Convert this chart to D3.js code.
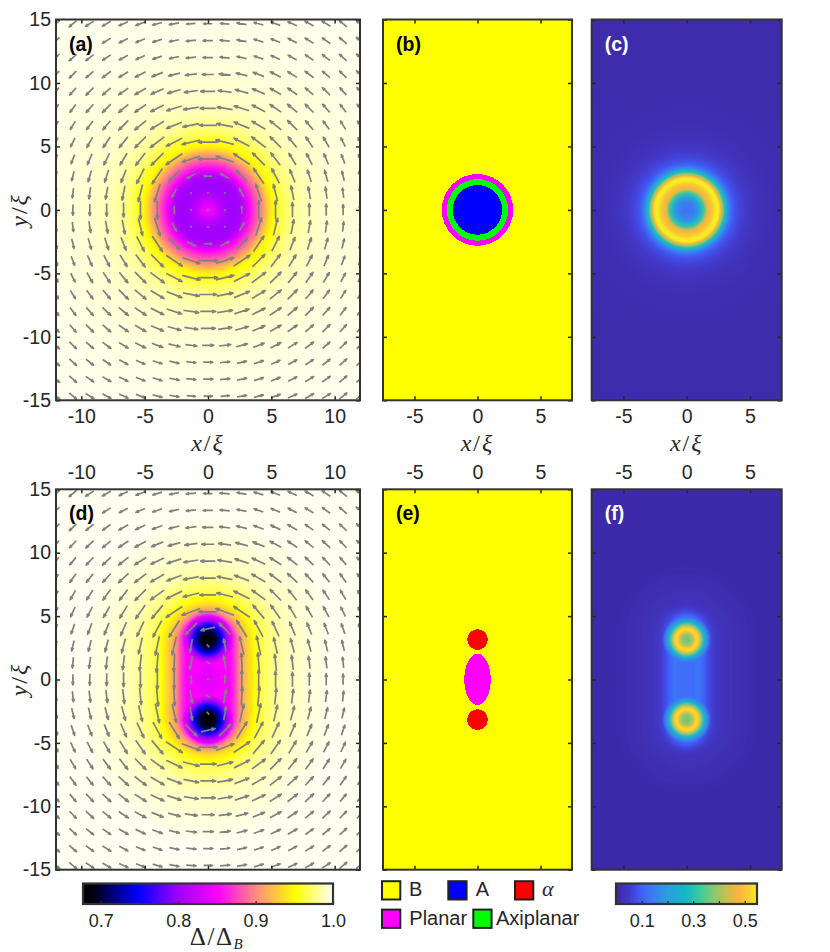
<!DOCTYPE html>
<html><head><meta charset="utf-8">
<script src="https://cdnjs.cloudflare.com/ajax/libs/d3/7.8.5/d3.min.js"></script>
<style>
html,body{margin:0;padding:0;background:#fff}
svg{display:block}
text{font-family:"Liberation Sans",Arial,sans-serif;fill:#262626}
.math{font-family:"Liberation Serif",serif}
</style></head><body><svg id="fig" width="830" height="952"></svg>
<script>
// ---------- axis data
const ticksWide=[-10,-5,0,5,10];
const ticksNarrow=[-5,0,5];
const ticksY=[-15,-10,-5,0,5,10,15];
const panelLabels=["(a)","(b)","(c)","(d)","(e)","(f)"];
// ---------- colour maps
const gapStops=[0.677,0.69,0.748,0.80,0.852,0.90,0.951,1.0];
const gapColors=["#000000","#00000f","#0000ff","#a000ff","#ff00ff","#ff8a80","#ffff00","#fffff6"];
const mixStops=[0,0.05,0.10,0.15,0.20,0.27,0.33,0.38,0.43,0.48,0.52,0.548];
const mixColors=["#3c28a4","#4338c8","#4060ff","#3a80f0","#2a9fdc","#10b8c8","#40cc98","#88c870","#c8c050","#ffb23c","#f8d030","#f5f020"];
// ---------- panel (a): radial profile of the gap
const ringRadiusA=[0,0.5,1,1.5,2,2.5,2.8,3.2,3.6,4,4.4,4.8,5.2,5.6,6.2,7,8,9,10,12,14,20];
const ringValueA=[0.85,0.835,0.815,0.803,0.80,0.803,0.815,0.845,0.87,0.89,0.91,0.935,0.95,0.96,0.972,0.982,0.988,0.991,0.993,0.995,0.997,0.999];
// ---------- panel (c): radial profile of the mixing
const ringRadiusC=[0,0.6,1,1.35,1.6,1.85,2.1,2.3,2.5,2.7,2.85,3.0,3.2,3.45,3.75,4.2,4.7,5.5,7,11];
const ringValueC=[0.12,0.15,0.21,0.32,0.45,0.49,0.52,0.545,0.545,0.47,0.38,0.29,0.20,0.13,0.085,0.065,0.05,0.03,0.02,0.012];
// ---------- panel (d): nested level shapes
const capsuleValueD=[0.997,0.995,0.992,0.988,0.982,0.975,0.965,0.95,0.935,0.92,0.90,0.875,0.855,0.85,0.84];
const capsuleHalfXD=[9.5,8.5,7.5,6.5,5.6,4.9,4.2,3.7,3.3,2.9,2.5,2.2,1.85,1.2,0.7];
const capsuleHalfYD=[12.5,11.2,10.2,9.0,8.2,7.6,6.9,6.4,6.0,5.7,5.4,5.15,4.7,1.5,0.9];
const coreRadiusD=[2.05,1.8,1.5,1.25,1.05,0.8,0.55,0];
const coreValueD=[0.855,0.83,0.80,0.76,0.74,0.71,0.69,0.677];
// ---------- panel (f): nested level shapes
const capsuleValueF=[0.012,0.02,0.03,0.05,0.08,0.11,0.14,0.125,0.12];
const capsuleHalfXF=[5.5,4,3,2.2,1.65,1.3,0.95,0.7,0.45];
const capsuleHalfYF=[9,7.5,6.3,5.7,5.3,5.0,4.5,4.0,3.0];
const coreRadiusF=[1.8,1.6,1.45,1.3,1.15,1.03,0.93,0.8,0.65,0.52,0.35,0];
const coreValueF=[0.13,0.18,0.24,0.30,0.38,0.46,0.53,0.54,0.49,0.42,0.37,0.35];
const vortexY=[3.15,-3.15];
// ---------- phase regions (b), (e): [semi-x, semi-y, centre y]
const phaseB=[["Planar",2.83,2.83,0],["Axiplanar",2.43,2.43,0],["A",1.96,1.96,0]];
const phaseE=[["Planar",1.05,2.03,0],["alpha",0.82,0.82,3.15],["alpha",0.82,0.82,-3.17]];
const phaseColors={B:"#ffff00",A:"#0000ff",alpha:"#ff0000",Planar:"#ff00ff",Axiplanar:"#00ff00"};
// ---------- order parameter arrows, first quadrant: rows y=j*step, columns x=k*step
const arrowStep=4/3;
const arrowAngleA=[
[90,90,90,90,90,90,90,90,90,90],
[180,135,117,108,104,101,100,98,97,96],
[180,153,135,124,117,112,108,106,104,103],
[180,162,146,135,127,121,117,113,111,108],
[180,166,153,143,135,129,124,120,117,114],
[180,169,158,149,141,135,130,126,122,119],
[180,171,162,153,146,140,135,131,127,124],
[180,172,164,157,150,145,139,135,131,128],
[180,173,166,159,153,148,143,139,135,132],
[180,174,167,162,156,151,146,142,138,134],
[180,174,169,163,158,153,149,145,139,137],
[180,175,170,165,160,156,151,148,140,139]];
const arrowSizeA=[
[2,2,8,19,19,15,13,12,11,10],
[2,2,10,19,18,15,13,12,10,10],
[8,10,16,19,17,14,13,12,10,10],
[20,19,20,18,16,14,13,12,10,10],
[20,19,18,18,16,14,13,12,10,10],
[18,17,17,16,15,14,12,11,10,10],
[16,16,16,15,14,13,12,11,10,10],
[15,14,14,14,13,12,11,11,10,10],
[12,12,12,12,12,11,11,10,10,10],
[10,10,10,10,10,10,10,10,10,10],
[10,10,10,10,10,10,10,10,10,10],
[9,9,10,10,10,10,10,10,10,10]];
const arrowAngleD=[
[90,90,90,90,90,90,90,90,90,90],
[160,100,93,95,96,97,97,97,96,96],
[130,100,103,102,103,105,105,104,103,102],
[193,135,122,118,115,113,112,111,109,107],
[180,160,146,130,125,121,120,118,115,113],
[180,166,154,144,135,128,126,123,120,118],
[180,169,159,150,143,137,133,129,125,122],
[180,171,162,155,148,142,137,133,130,127],
[180,172,165,158,152,146,141,137,134,130],
[180,173,166,160,155,150,145,141,137,134],
[180,174,168,162,157,152,148,144,139,137],
[180,175,169,164,159,155,150,147,140,139]];
const arrowSizeD=[
[2,8,19,20,17,15,13,12,11,10],
[5,14,19,20,17,15,13,12,11,10],
[4,14,19,20,17,15,13,12,11,10],
[15,17,20,19,17,15,13,12,11,10],
[19,20,20,18,17,15,13,12,11,10],
[17,17,18,17,16,14,13,12,11,10],
[16,16,16,16,15,14,12,11,11,10],
[15,15,15,15,14,13,12,11,10,10],
[13,13,13,13,13,12,11,11,10,10],
[11,11,11,11,11,11,10,10,10,10],
[10,10,10,10,10,10,10,10,10,10],
[9,10,10,10,10,10,10,10,10,10]];
const arrowsUnderLabel=["-8,10","-7,10"];
// ---------- legend
const legendRowOne=[["B","B",false],["A","A",false],["alpha","\u03b1",true]];
const legendRowTwo=[["Planar","Planar",false],["Axiplanar","Axiplanar",false]];
const gapBarTicks=[0.7,0.8,0.9,1.0];
const mixBarTicks=[0.1,0.2,0.3,0.4,0.5];
const mixBarLabels=[0.1,0.3,0.5];

// ---------- scales
const gapColor=d3.scaleLinear().domain(gapStops).range(gapColors).clamp(true);
const mixColor=d3.scaleLinear().domain(mixStops).range(mixColors).clamp(true);
const sizeScale=d3.scaleLinear().domain([0,20]).range([0,19.5]);
const INK="#262626",BOX="#333333",ARROW="#808080";
const svg=d3.select("#fig"),defs=svg.append("defs");
defs.append("filter").attr("id","soft").attr("x","-5%").attr("y","-5%").attr("width","110%").attr("height","110%")
  .append("feGaussianBlur").attr("stdDeviation",1.2);

function makePanel(id,x0,x1,y0,y1,limit){
  const x=d3.scaleLinear().domain([-limit,limit]).range([x0,x1]);
  const y=d3.scaleLinear().domain([-15,15]).range([y1,y0]);
  defs.append("clipPath").attr("id","clip"+id).append("rect")
    .attr("x",x0).attr("y",y0).attr("width",x1-x0).attr("height",y1-y0);
  const g=svg.append("g");
  const body=g.append("g").attr("clip-path",`url(#clip${id})`);
  return {id,x,y,x0,x1,y0,y1,g,body};
}
const top1=19.5,bot1=400.3,top2=489.3,bot2=869.7;
const P={
 a:makePanel("a",56,360,top1,bot1,12),
 b:makePanel("b",383,572,top1,bot1,7.5),
 c:makePanel("c",591.7,781.7,top1,bot1,7.5),
 d:makePanel("d",56,360,top2,bot2,12),
 e:makePanel("e",383,572,top2,bot2,7.5),
 f:makePanel("f",591.7,781.7,top2,bot2,7.5)};

function backdrop(p,fill){
  p.body.append("rect").attr("x",p.x0).attr("y",p.y0).attr("width",p.x1-p.x0).attr("height",p.y1-p.y0).attr("fill",fill);
}
function radialField(p,radii,values,color){
  const rMax=d3.max(radii);
  const gid="grad"+p.id;
  defs.append("radialGradient").attr("id",gid).selectAll("stop").data(radii).join("stop")
    .attr("offset",d=>d/rMax).attr("stop-color",(d,i)=>color(values[i]));
  backdrop(p,color(values[values.length-1]));
  p.body.append("circle").attr("cx",p.x(0)).attr("cy",p.y(0)).attr("r",p.x(rMax)-p.x(0)).attr("fill",`url(#${gid})`);
}
function nested(hx,hy,v,steps){
  const out=[];
  for(let i=0;i<v.length-1;i++){
    for(let s=0;s<steps;s++){
      const t=s/steps;
      out.push({hx:hx[i]+(hx[i+1]-hx[i])*t,hy:hy[i]+(hy[i+1]-hy[i])*t,v:v[i]+(v[i+1]-v[i])*t});
    }
  }
  out.push({hx:hx[hx.length-1],hy:hy[hy.length-1],v:v[v.length-1]});
  return out;
}
function levelField(p,hx,hy,v,rad,vr,color,baseValue){
  backdrop(p,color(baseValue));
  const gg=p.body.append("g").attr("filter","url(#soft)");
  gg.append("rect").attr("x",p.x0-10).attr("y",p.y0-10).attr("width",p.x1-p.x0+20).attr("height",p.y1-p.y0+20).attr("fill",color(baseValue));
  const k=p.x(1)-p.x(0);
  gg.selectAll("rect.lv").data(nested(hx,hy,v,5)).join("rect").attr("class","lv")
    .attr("x",d=>p.x(-d.hx)).attr("y",d=>p.y(d.hy))
    .attr("width",d=>p.x(d.hx)-p.x(-d.hx)).attr("height",d=>p.y(-d.hy)-p.y(d.hy))
    .attr("rx",d=>Math.min(d.hx,d.hy)*k).attr("ry",d=>Math.min(d.hx,d.hy)*k)
    .attr("fill",d=>color(d.v));
  vortexY.forEach(cy=>{
    gg.append("g").selectAll("circle").data(nested(rad,rad,vr,5)).join("circle")
      .attr("cx",p.x(0)).attr("cy",p.y(cy)).attr("r",d=>d.hx*k).attr("fill",d=>color(d.v));
  });
}
function phaseField(p,regions){
  backdrop(p,phaseColors.B);
  p.body.append("g").selectAll("ellipse").data(regions).join("ellipse")
    .attr("cx",p.x(0)).attr("cy",d=>p.y(d[3]))
    .attr("rx",d=>p.x(d[1])-p.x(0)).attr("ry",d=>p.y(0)-p.y(d[2]))
    .attr("fill",d=>phaseColors[d[0]]).attr("shape-rendering","crispEdges");
}
function arrows(p,angleTable,sizeTable){
  const items=[];
  d3.range(-9,10).forEach(k=>d3.range(-11,12).forEach(j=>{
    if(arrowsUnderLabel.includes(k+","+j))return;
    const a=angleTable[Math.abs(j)][Math.abs(k)]*Math.PI/180;
    const sy=j<0?-1:1, sx=(k<0||(k===0&&j<0))?-1:1;
    items.push({x:k*arrowStep,y:j*arrowStep,u:Math.cos(a)*sy,v:Math.sin(a)*sx,s:sizeTable[Math.abs(j)][Math.abs(k)]});
  }));
  p.body.append("g").selectAll("path").data(items).join("path")
    .attr("fill","none").attr("stroke",ARROW).attr("stroke-width",1.7).attr("stroke-linejoin","round")
    .attr("d",d=>{
      const L=sizeScale(d.s),cx=p.x(d.x),cy=p.y(d.y),dx=d.u,dy=-d.v;
      const tx=cx-dx*L/2,ty=cy-dy*L/2,hx=cx+dx*L/2,hy=cy+dy*L/2;
      if(L<7) return `M${tx},${ty}L${hx},${hy}`;
      const b=Math.min(4,L*0.32),c=Math.cos(0.32),n=Math.sin(0.32);
      const x1=hx-b*(dx*c-dy*n),y1=hy-b*(dy*c+dx*n),x2=hx-b*(dx*c+dy*n),y2=hy-b*(dy*c-dx*n);
      return `M${tx},${ty}L${hx},${hy}M${x1},${y1}L${hx},${hy}L${x2},${y2}`;
    });
}
radialField(P.a,ringRadiusA,ringValueA,gapColor);
levelField(P.d,capsuleHalfXD,capsuleHalfYD,capsuleValueD,coreRadiusD,coreValueD,gapColor,0.999);
arrows(P.a,arrowAngleA,arrowSizeA);
arrows(P.d,arrowAngleD,arrowSizeD);
phaseField(P.b,phaseB);
phaseField(P.e,phaseE);
radialField(P.c,ringRadiusC,ringValueC,mixColor);
levelField(P.f,capsuleHalfXF,capsuleHalfYF,capsuleValueF,coreRadiusF,coreValueF,mixColor,0.008);

// ---------- axes
function frame(p,xt,labelX,labelY){
  const fmt=d=>String(d), none=()=>"";
  const mk=(axis,scale,ticks,f,pad)=>axis(scale).tickValues(ticks).tickFormat(f).tickSizeOuter(0).tickSizeInner(-4).tickPadding(pad);
  const place=(tx,ty,ax)=>{
    const g=p.g.append("g").attr("transform",`translate(${tx},${ty})`).call(ax);
    g.select(".domain").remove();
    g.selectAll("line").attr("stroke",INK).attr("stroke-width",1.5);
    g.selectAll("text").attr("fill",INK).style("font-size","19.5px").attr("font-family",null);
    return g;
  };
  place(0,p.y1,mk(d3.axisBottom,p.x,xt,labelX==="bottom"?fmt:none,9));
  place(0,p.y0,mk(d3.axisTop,p.x,xt,labelX==="top"?fmt:none,10));
  place(p.x0,0,mk(d3.axisLeft,p.y,ticksY,labelY?fmt:none,5));
  place(p.x1,0,mk(d3.axisRight,p.y,ticksY,none,5));
  p.g.append("rect").attr("x",p.x0).attr("y",p.y0).attr("width",p.x1-p.x0).attr("height",p.y1-p.y0)
    .attr("fill","none").attr("stroke",BOX).attr("stroke-width",2);
}
frame(P.a,ticksWide,"bottom",true);
frame(P.b,ticksNarrow,"bottom",false);
frame(P.c,ticksNarrow,"bottom",false);
frame(P.d,ticksWide,"top",true);
frame(P.e,ticksNarrow,"top",false);
frame(P.f,ticksNarrow,"top",false);

// ---------- panel labels
[P.a,P.b,P.c,P.d,P.e,P.f].forEach((p,i)=>{
  p.g.append("text").attr("x",p.x0+13).attr("y",p.y0+31)
    .style("font-weight","700").style("font-size","19.5px")
    .style("fill",(i===2||i===5)?"#ffffff":"#000000").text(panelLabels[i]);
});

// ---------- math labels
function ratioLabel(sel,a,b){
  sel.attr("class","math").attr("text-anchor","middle").style("font-size","24px").style("letter-spacing","2px").attr("fill",INK);
  sel.append("tspan").style("font-style","italic").text(a);
  sel.append("tspan").text("/");
  sel.append("tspan").style("font-style","italic").text(b);
}
[P.a.x(0),P.b.x(0),P.c.x(0)].forEach(cx=>{
  ratioLabel(svg.append("text").attr("x",cx).attr("y",451),"x","\u03be");
});
[[P.a,22],[P.d,22]].forEach(([p,xx])=>{
  ratioLabel(svg.append("text").attr("transform",`translate(${xx+5},${p.y(0)}) rotate(-90)`),"y","\u03be");
});
const dl=svg.append("text").attr("class","math").attr("x",217).attr("y",945).attr("text-anchor","middle").style("font-size","25px").style("letter-spacing","1.5px").attr("fill",INK);
dl.append("tspan").text("\u0394/\u0394");
dl.append("tspan").attr("dy",4).style("font-size","15px").style("font-style","italic").text("B");

// ---------- colour bars
function colorBar(id,x0,x1,stops,colors,ticks,labels,fmt){
  const y0=883.5,y1=904;
  const sc=d3.scaleLinear().domain([stops[0],stops[stops.length-1]]).range([x0,x1]);
  defs.append("linearGradient").attr("id",id).selectAll("stop").data(stops).join("stop")
    .attr("offset",d=>(sc(d)-x0)/(x1-x0)).attr("stop-color",(d,i)=>colors[i]);
  svg.append("rect").attr("x",x0).attr("y",y0).attr("width",x1-x0).attr("height",y1-y0).attr("fill",`url(#${id})`);
  const g=svg.append("g").attr("transform",`translate(0,${y1})`)
    .call(d3.axisBottom(sc).tickValues(ticks).tickSizeOuter(0).tickSizeInner(-3).tickPadding(10)
      .tickFormat(d=>labels.includes(d)?fmt(d):""));
  g.select(".domain").remove();
  g.selectAll("line").attr("stroke",INK).attr("stroke-width",1.2);
  g.selectAll("text").attr("fill",INK).style("font-size","18px").attr("font-family",null);
  svg.append("rect").attr("x",x0).attr("y",y0).attr("width",x1-x0).attr("height",y1-y0)
    .attr("fill","none").attr("stroke",BOX).attr("stroke-width",2.2);
}
colorBar("barGap",83,333,gapStops,gapColors,gapBarTicks,gapBarTicks,d3.format(".1f"));
colorBar("barMix",616,757,mixStops,mixColors,mixBarTicks,mixBarLabels,d3.format(".1f"));

// ---------- legend
const sw=18.3;
const legendX={B:382,A:448.3,alpha:515,Planar:382,Axiplanar:473.3};
const legendTextX={B:409,A:475.7,alpha:542,Planar:409.3,Axiplanar:496};
[[legendRowOne,881.2,896],[legendRowTwo,909.6,925]].forEach(([row,yy,base])=>{
  const g=svg.append("g").selectAll("g").data(row).join("g");
  g.append("rect").attr("x",d=>legendX[d[0]]).attr("y",yy).attr("width",sw).attr("height",sw)
    .attr("fill",d=>phaseColors[d[0]]).attr("stroke","#222").attr("stroke-width",2);
  g.append("text").attr("x",d=>legendTextX[d[0]]).attr("y",base)
    .attr("class",d=>d[2]?"math":null).style("font-style",d=>d[2]?"italic":"normal")
    .style("font-size",d=>d[2]?"22px":"20px").attr("fill",INK).text(d=>d[1]);
});
</script></body></html>
